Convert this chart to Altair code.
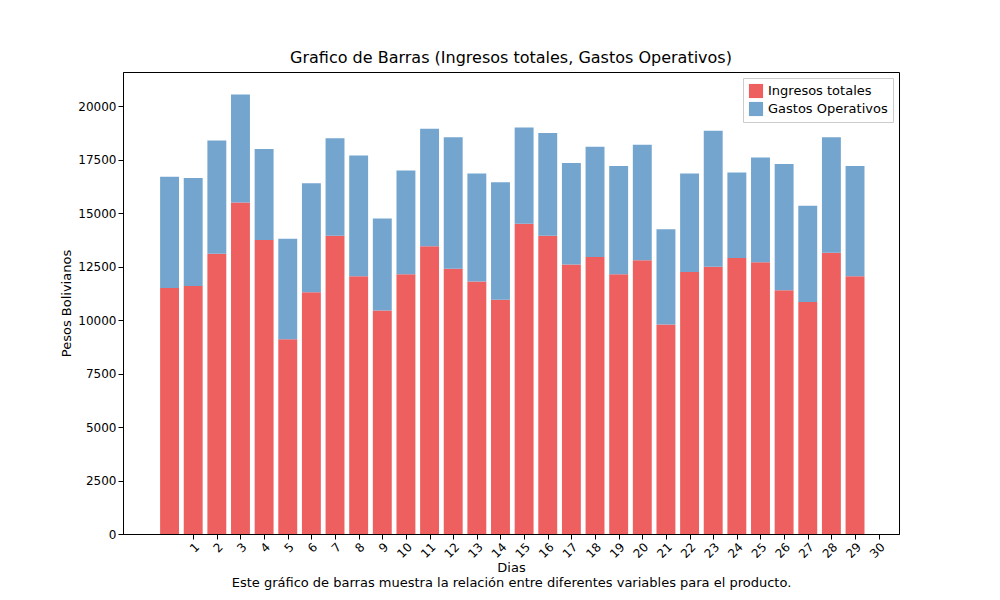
import altair as alt
import pandas as pd

dias = list(range(1, 31))
ingresos = [11500, 11600, 13100, 15500, 13750, 9100, 11300, 13950, 12050, 10450,
            12150, 13450, 12400, 11800, 10950, 14500, 13950, 12600, 12950, 12150,
            12800, 9800, 12250, 12500, 12900, 12700, 11400, 10850, 13150, 12050]
totales = [16700, 16650, 18400, 20550, 18000, 13800, 16400, 18500, 17700, 14750,
           17000, 18950, 18550, 16850, 16450, 19000, 18750, 17350, 18100, 17200,
           18200, 14250, 16850, 18850, 16900, 17600, 17300, 15350, 18550, 17200]
gastos = [t - i for t, i in zip(totales, ingresos)]

rows = []
for k, (d, i, g) in enumerate(zip(dias, ingresos, gastos)):
    rows.append(dict(pos=k, x0=k - 0.4, x1=k + 0.4, y0=0, y1=i, serie="Ingresos totales"))
    rows.append(dict(pos=k, x0=k - 0.4, x1=k + 0.4, y0=i, y1=i + g, serie="Gastos Operativos"))
df = pd.DataFrame(rows)

chart = alt.Chart(df).mark_rect(strokeWidth=0).encode(
    x=alt.X("x0:Q", scale=alt.Scale(domain=[-1.97, 30.86], nice=False, zero=False),
            axis=alt.Axis(values=dias, format="d", labelAngle=-45, labelAlign="right", labelBaseline="top",
                          grid=False, title=["Dias", "Este gráfico de barras muestra la relación entre diferentes variables para el producto."],
                          titleFontWeight="normal", titleFontSize=13, labelFontSize=12, titlePadding=2,
                          tickColor="black", domainColor="black", labelColor="black", titleColor="black")),
    x2="x1:Q",
    y=alt.Y("y0:Q", scale=alt.Scale(domain=[0, 21600], nice=False),
            axis=alt.Axis(values=list(range(0, 20001, 2500)), format="d", grid=False, title="Pesos Bolivianos",
                          titleFontWeight="normal", titleFontSize=13, labelFontSize=12,
                          tickColor="black", domainColor="black", labelColor="black", titleColor="black")),
    y2="y1:Q",
    color=alt.Color("serie:N", scale=alt.Scale(domain=["Ingresos totales", "Gastos Operativos"],
                                              range=["#ee5f5f", "#73a5cf"]),
                    legend=alt.Legend(title=None, orient="top-right", symbolType="square", offset=6,
                                      labelFontSize=13, strokeColor="#cccccc", padding=5,
                                      fillColor="white", symbolSize=200, labelColor="black")),
).properties(
    width=776, height=462,
    title=alt.TitleParams("Grafico de Barras (Ingresos totales, Gastos Operativos)",
                          fontSize=16, fontWeight="normal", color="black", offset=6),
    autosize=alt.AutoSizeParams(type="none"),
    padding={"left": 115, "top": 64, "right": 93, "bottom": 60},
).configure(font="DejaVu Sans").configure_view(stroke="black", strokeWidth=1)

chart.save("out.html", embed_options={"renderer": "svg", "actions": False})
